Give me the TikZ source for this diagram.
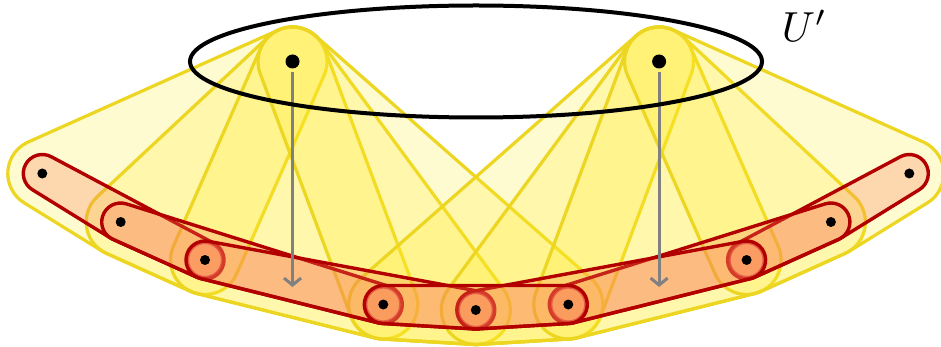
\documentclass[tikz,border=0pt]{standalone}
\usetikzlibrary{calc,arrows.meta}
\definecolor{yline}{RGB}{236,214,34}
\definecolor{yfill}{RGB}{255,235,40}
\definecolor{rline}{RGB}{178,0,0}
\definecolor{rline2}{RGB}{200,45,45}
\definecolor{rfill}{RGB}{250,125,85}
\definecolor{arrowgray}{RGB}{128,128,128}
% arc around vertex #3 from edge #2->#3 to edge #3->#4, radius #1
\newcommand\hcorner[4]{let \p1=($(#3)-(#2)$), \p2=($(#4)-(#3)$),
  \n1={atan2(\y1,\x1)}, \n2={atan2(\y2,\x2)},
  \n3={\n1-90}, \n4={mod(\n2-\n1+720,360)} in
  arc[start angle=\n3, delta angle=\n4, radius=#1]}
% inflated convex quadrilateral (vertices counter-clockwise)
\newcommand\quadblob[5]{($(#2)!#1!-90:(#3)$) -- ($(#3)!#1!90:(#2)$) \hcorner{#1}{#2}{#3}{#4}
  -- ($(#4)!#1!90:(#3)$) \hcorner{#1}{#3}{#4}{#5}
  -- ($(#5)!#1!90:(#4)$) \hcorner{#1}{#4}{#5}{#2}
  -- ($(#2)!#1!90:(#5)$) \hcorner{#1}{#5}{#2}{#3} -- cycle}
% inflated triangle
\newcommand\triblob[4]{($(#2)!#1!-90:(#3)$) -- ($(#3)!#1!90:(#2)$) \hcorner{#1}{#2}{#3}{#4}
  -- ($(#4)!#1!90:(#3)$) \hcorner{#1}{#3}{#4}{#2}
  -- ($(#2)!#1!90:(#4)$) \hcorner{#1}{#4}{#2}{#3} -- cycle}
\begin{document}
\begin{tikzpicture}[x=1pt,y=-1pt,
  ycone/.style={draw=yline,line width=3.2pt,fill=yfill,fill opacity=0.22},
  rblob/.style={draw=rline,line width=3.4pt,fill=rfill,fill opacity=0.28},
  rsingle/.style={draw=rline2,line width=3.2pt,fill=rfill,fill opacity=0.28},
  garrow/.style={draw=arrowgray,line width=3pt,shorten <=11pt,
    -{Straight Barb[length=7pt,width=17pt]}},
  ring/.style={draw=black,line width=4pt},
  adot/.style={fill=black},
]
\useasboundingbox (0,0) rectangle (941,347);
\coordinate (A1) at (292.5,61.5);
\coordinate (A2) at (659.1,61.5);
\coordinate (P1) at (42.3,173.5);
\coordinate (P2) at (120.7,222);
\coordinate (P3) at (205,260);
\coordinate (P4) at (383.3,304.5);
\coordinate (P5) at (475.8,310);
\coordinate (P6) at (568.3,304.5);
\coordinate (P7) at (746.6,260);
\coordinate (P8) at (830.9,222);
\coordinate (P9) at (909.3,173.5);
\coordinate (B1) at (292.5,287);
\coordinate (B2) at (659.1,287);
\coordinate (C) at (476,61.5);
% yellow cones
\draw[ycone] \quadblob{34.5pt}{A1}{P1}{P2}{P3};
\draw[ycone] \quadblob{34.5pt}{A1}{P2}{P3}{P4};
\draw[ycone] \quadblob{34.5pt}{A1}{P3}{P4}{P5};
\draw[ycone] \quadblob{34.5pt}{A1}{P4}{P5}{P6};
\draw[ycone] \quadblob{34.5pt}{A2}{P4}{P5}{P6};
\draw[ycone] \quadblob{34.5pt}{A2}{P5}{P6}{P7};
\draw[ycone] \quadblob{34.5pt}{A2}{P6}{P7}{P8};
\draw[ycone] \quadblob{34.5pt}{A2}{P7}{P8}{P9};
% red singletons
\foreach \p in {P3,P4,P5,P6,P7}
  \draw[rsingle] (\p) circle[radius=17.5pt];
% red triples
\draw[rblob] \triblob{19pt}{P1}{P2}{P3};
\draw[rblob] \triblob{19pt}{P7}{P8}{P9};
\draw[rblob] \triblob{19pt}{P2}{P3}{P4};
\draw[rblob] \triblob{19pt}{P6}{P7}{P8};
\draw[rblob] \triblob{19pt}{P3}{P4}{P5};
\draw[rblob] \triblob{19pt}{P5}{P6}{P7};
\draw[rblob] \triblob{19pt}{P4}{P5}{P6};
% arrows
\draw[garrow] (A1) -- (B1);
\draw[garrow] (A2) -- (B2);
% ellipse
\draw[ring] (C) ellipse[x radius=286pt, y radius=56pt];
% dots
\fill[adot] (A1) circle[radius=7pt];
\fill[adot] (A2) circle[radius=7pt];
\foreach \p in {P1,P2,P3,P4,P5,P6,P7,P8,P9}
  \fill[adot] (\p) circle[radius=5pt];
\node[scale=4.2,inner sep=0pt] (lbl) at (804.5,26) {$U'$};
\end{tikzpicture}
\end{document}
